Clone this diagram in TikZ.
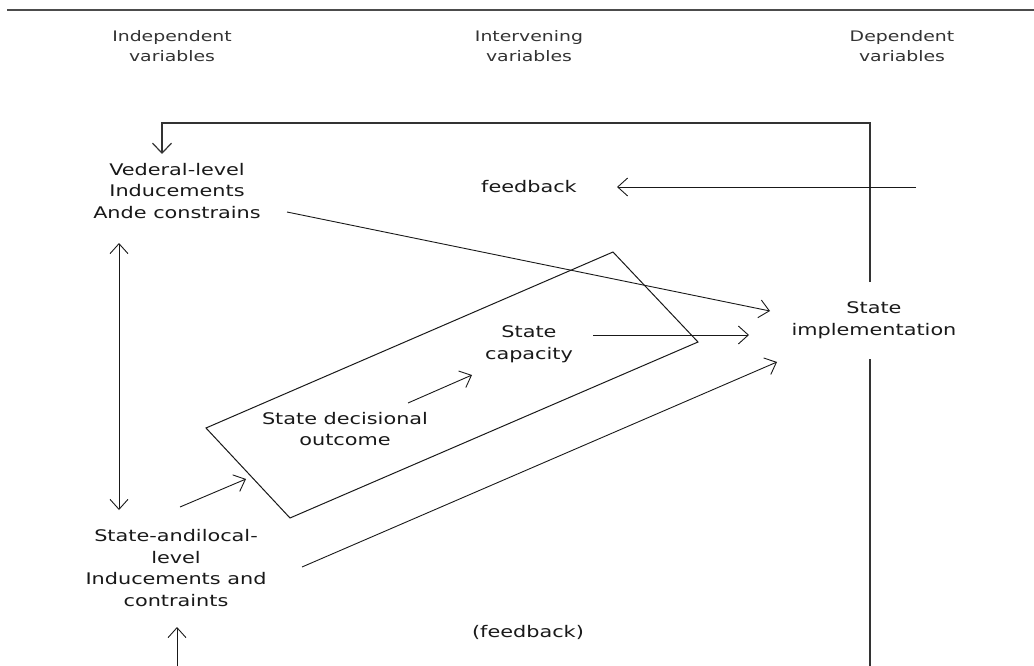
\documentclass[tikz,border=0pt]{standalone}
\usepackage{fontspec}
\setmainfont{DejaVu Sans}[FakeStretch=1.3]
\usetikzlibrary{arrows.meta,positioning}

\begin{document}
\begin{tikzpicture}[x=1pt,y=-1pt,
  lbl/.style={align=center,inner sep=0pt,font=\fontsize{16}{21.5}\selectfont,text=black!90},
  hdr/.style={align=center,inner sep=0pt,font=\fontsize{14.5}{20}\selectfont,text=black!80},
  con/.style={line width=0.9pt,black!90,-{Straight Barb[length=10pt,width=18pt]}},
  loop/.style={line width=1.2pt,black!80}]
\useasboundingbox (0,0) rectangle (1034,666);
% --- top rule and column heads ---
\draw[line width=2pt,black!70] (7,10) -- (1034,10);
\node[hdr] (hind) at (172,46) {Independent\\variables};
\node[hdr] (hint) at (529,46) {Intervening\\variables};
\node[hdr] (hdep) at (902,46) {Dependent\\variables};
% --- variables ---
\node[lbl] (fed) at (177,191) {Vederal-level\\Inducements\\Ande constrains};
\node[lbl] (fb) at (529,187) {feedback};
\node[lbl] (dec) at (345,429) {State decisional\\outcome};
\node[lbl] (cap) at (529,344) {State\\capacity};
\node[lbl] (impl) at (874,320) {State\\implementation};
\node[lbl] (loc) at (176,568) {State-andilocal-\\level\\Inducements and\\contraints};
\node[lbl] (fb2) at (528,632) {(feedback)};
% --- box round the intervening variables ---
\draw[line width=1pt,black!90] (206,428) -- (613,252) -- (698,342) -- (290,518) -- cycle;
% --- end points ---
\coordinate (up) at (870,282);
\coordinate (lo) at (870,359);
\coordinate (bot) at (870,666);
\coordinate (fdt) at (162,154);
\coordinate (fbr) at (916,187);
\coordinate (fbt) at (617,187);
\coordinate (lt) at (119,243);
\coordinate (lb) at (119,510);
\coordinate (ub) at (177,666);
\coordinate (ut) at (177,627);
\coordinate (fedo) at (287,212);
\coordinate (implf) at (770,311);
\coordinate (capo) at (593,335);
\coordinate (implc) at (749,335);
\coordinate (loco) at (302,567);
\coordinate (impll) at (777,362);
\coordinate (loca) at (180,507);
\coordinate (deci) at (246,479);
\coordinate (deco) at (408,403);
\coordinate (capi) at (472,375);
% --- connectors ---
\draw[loop,-{Straight Barb[length=10pt,width=19pt]}] (up) |- (fdt |- 0,123) -- (fdt);
\draw[loop] (lo) -- (bot);
\draw[con] (fbr) -- (fbt);
\draw[con,{Straight Barb[length=10pt,width=18pt]}-{Straight Barb[length=10pt,width=18pt]}] (lt) -- (lb);
\draw[con] (ub) -- (ut);
\draw[con] (fedo) -- (implf);
\draw[con] (capo) -- (implc);
\draw[con] (loco) -- (impll);
\draw[con] (loca) -- (deci);
\draw[con] (deco) -- (capi);
\end{tikzpicture}
\end{document}
